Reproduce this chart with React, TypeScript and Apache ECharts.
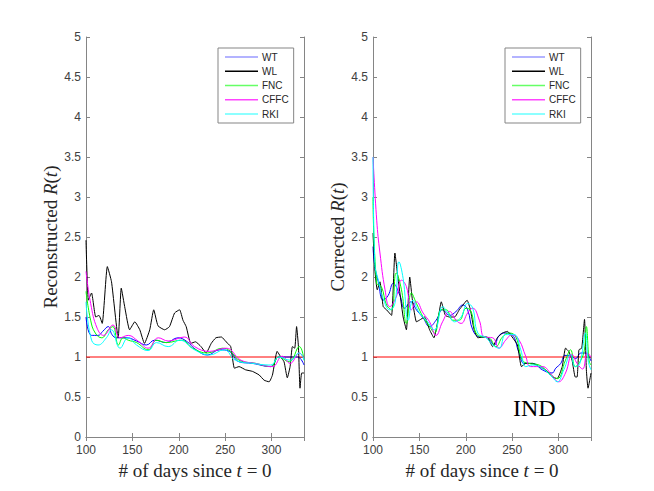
import React, { useEffect, useRef } from "react";
import * as echarts from "echarts";

type P = [number, number];

const seriesNames = ["WT", "WL", "FNC", "CFFC", "RKI"];
const seriesColors = ["#0000ff", "#000000", "#00ff00", "#ff00ff", "#00ffff"];
const legendColors = ["#9a9aff", "#000000", "#66ff66", "#ff44ff", "#66ffff"];
const xRange = [100, 335];
const refLine: P[] = [[100, 1], [335, 1]];
const panelLabel = "IND";

// Left panel: reconstructed R(t)
const leftWT: P[] = [[100,1.50],[106,1.27],[113,1.27],[118,1.32],[124,1.38],[128,1.28],[133,1.24],[144,1.24],[154.5,1.20],[165,1.15],[174,1.21],[186.5,1.18],[199,1.24],[208,1.20],[218.7,1.09],[231,1.025],[244,1.09],[254.6,1.07],[265,0.94],[279.5,0.92],[299,0.88],[308,1.00],[319,1.0],[328,1.0],[335,0.9]];
const leftWL: P[] = [[100,2.46],[102.5,1.71],[106,1.80],[110.5,1.50],[114,1.52],[117.5,1.42],[123,2.13],[127.5,1.94],[134.7,1.24],[138,1.86],[142,1.61],[147,1.34],[152.6,1.44],[158,1.34],[163,1.17],[168.7,1.34],[173,1.59],[177.6,1.39],[184.8,1.34],[190,1.38],[195.5,1.55],[200.9,1.59],[204.5,1.46],[208,1.38],[213,1.17],[218,1.19],[224,1.13],[229.5,1.05],[235,1.17],[240,1.24],[246,1.25],[251,1.19],[256,1.13],[260,0.86],[265,0.88],[272,0.84],[279.5,0.82],[286.7,0.775],[292,0.71],[297.4,0.69],[301,0.775],[306,1.07],[310,1.00],[313.5,0.94],[317,0.74],[320,0.88],[322.5,1.13],[325,1.11],[327,1.38],[329,1.13],[330.7,0.61],[332.5,0.80],[335,0.80]];
const leftFNC: P[] = [[100,1.82],[105,1.46],[110,1.30],[117,1.24],[124,1.34],[129,1.38],[135,1.15],[140,1.24],[145.5,1.21],[154.5,1.18],[167,1.09],[176,1.21],[186.5,1.18],[203,1.21],[215,1.11],[231,1.05],[247,1.11],[256,1.07],[265,0.96],[283,0.92],[299,0.88],[308,1.00],[319,0.94],[330,1.13],[335,0.96]];
const leftCFFC: P[] = [[100,2.07],[105,1.67],[112,1.36],[119,1.27],[129,1.40],[136.7,1.24],[145.5,1.27],[156,1.20],[167,1.11],[178,1.24],[188.6,1.20],[206,1.25],[217,1.13],[233,1.07],[251,1.11],[267,0.96],[283,0.92],[300.8,0.88],[311.5,1.01],[320,0.92],[330,1.05],[335,0.98]];
const leftRKI: P[] = [[100,1.69],[106,1.21],[113,1.15],[122,1.24],[127.5,1.34],[136.7,1.11],[145.5,1.24],[154.5,1.15],[167,1.08],[176,1.18],[188.6,1.13],[201,1.21],[217,1.09],[233,1.025],[249,1.09],[261,0.96],[280,0.92],[299,0.90],[308,1.00],[320,0.96],[330,1.05],[335,0.96]];

// Right panel: corrected R(t)
const rightWT: P[] = [[100,2.38],[102,2.13],[105.7,1.94],[111,1.71],[116.4,1.77],[121.8,1.92],[129,1.77],[134,1.61],[141,1.69],[146.8,1.59],[154,1.49],[161,1.38],[168,1.46],[175,1.59],[182.5,1.52],[189.6,1.57],[196.8,1.65],[202,1.59],[207.5,1.34],[214.6,1.25],[223.6,1.24],[230.7,1.15],[236,1.27],[243,1.30],[250,1.28],[257.5,1.05],[263,0.92],[272,0.92],[282.5,0.84],[293,0.80],[297,0.86],[302.4,0.92],[307,1.02],[312,1.02],[318.5,0.98],[324,1.05],[329,1.05],[335,0.95]];
const rightWL: P[] = [[100,2.55],[102,2.09],[104.6,1.84],[107.5,1.94],[111,1.63],[114.6,1.59],[120,1.52],[123.6,2.30],[127,1.98],[132.5,1.50],[136,1.34],[139.6,2.0],[142.5,1.71],[146.8,1.44],[150,1.46],[155.7,1.50],[161,1.34],[165.7,1.24],[170,1.46],[173.6,1.69],[178,1.52],[182.5,1.50],[188,1.50],[193,1.59],[197,1.65],[201.4,1.71],[205,1.59],[209,1.34],[213,1.24],[218,1.25],[223,1.25],[229,1.13],[234,1.24],[239.6,1.30],[245,1.32],[250,1.25],[255.7,1.15],[260,0.88],[264.6,0.92],[272,0.92],[279,0.88],[286,0.84],[293,0.75],[298.6,0.73],[304,0.88],[307.5,1.11],[311,1.07],[314.6,0.96],[318,0.75],[320,0.75],[322,1.09],[325,1.11],[328,1.47],[330,0.84],[331.8,0.61],[335,0.80]];
const rightFNC: P[] = [[100,3.0],[104,1.92],[109,1.88],[114.6,1.65],[120,1.59],[125,2.05],[130.7,1.84],[136,1.42],[141.4,1.80],[146.8,1.67],[154,1.50],[161,1.38],[166.4,1.30],[173.6,1.59],[179,1.59],[186,1.46],[193,1.46],[200.4,1.61],[205.7,1.57],[211,1.30],[218,1.25],[225,1.24],[232.5,1.13],[239.6,1.25],[246.8,1.30],[254,1.25],[261,0.96],[268,0.92],[279,0.90],[289.6,0.80],[298.6,0.73],[307.5,0.96],[313,1.09],[318,0.88],[324,0.96],[328,1.10],[330,1.38],[333,0.95],[335,0.90]];
const rightCFFC: P[] = [[100,3.5],[104,2.71],[107.5,2.30],[113,1.84],[118,1.63],[125,1.75],[130.7,1.96],[136,1.88],[141.4,1.59],[146.8,1.69],[154,1.55],[161,1.44],[168,1.27],[175,1.44],[182.5,1.57],[189.6,1.46],[195,1.42],[202,1.55],[207.5,1.61],[214.6,1.46],[220,1.25],[229,1.24],[236,1.11],[243,1.21],[250,1.28],[257.5,1.21],[264.6,1.01],[270,0.88],[282.5,0.88],[293,0.77],[300,0.69],[307.5,0.80],[314.6,1.03],[320,0.92],[326,0.85],[331,1.05],[335,1.0]];
const rightRKI: P[] = [[100,3.5],[102,2.17],[105.7,1.96],[111,1.73],[118,1.59],[123.6,1.67],[128,2.19],[132.5,1.98],[138,1.46],[143,1.71],[150,1.55],[157.5,1.46],[166.4,1.34],[175,1.63],[180.7,1.55],[188,1.44],[195,1.50],[202,1.67],[207.5,1.61],[213,1.30],[222,1.24],[229,1.15],[236,1.11],[243,1.28],[252,1.28],[259.3,1.09],[264.6,0.88],[272,0.90],[282.5,0.86],[293,0.75],[298.6,0.69],[305.7,0.84],[313,1.03],[318,0.88],[323,0.92],[329,1.30],[332,0.95],[335,0.84]];

const leftData = [leftWT, leftWL, leftFNC, leftCFFC, leftRKI];
const rightData = [rightWT, rightWL, rightFNC, rightCFFC, rightRKI];

const AXIS_COLOR = "#858585";
const LABEL_COLOR = "#404040";
const SERIF = "'Liberation Serif', 'DejaVu Serif', serif";
const SANS = "'Liberation Sans', Arial, sans-serif";

function makeAxes(gridIndex: number, yName: string) {
  const common = {
    gridIndex,
    axisLine: { show: true, lineStyle: { color: AXIS_COLOR, width: 1 } },
    axisTick: { show: true, inside: true, length: 4, lineStyle: { color: AXIS_COLOR } },
    splitLine: { show: false },
  };
  const nameStyle = {
    fontFamily: SERIF,
    fontSize: 19,
    color: "#262626",
    rich: { i: { fontFamily: SERIF, fontSize: 19, fontStyle: "italic", color: "#262626" } },
  };
  const xBottom = {
    ...common,
    type: "value",
    position: "bottom",
    min: xRange[0],
    max: xRange[1],
    interval: 50,
    name: "# of days since {i|t} = 0",
    nameLocation: "middle",
    nameGap: 15,
    nameTextStyle: nameStyle,
    axisLabel: { show: true, color: LABEL_COLOR, fontFamily: SANS, fontSize: 12, lineHeight: 12, margin: 7, showMaxLabel: false },
  };
  const xTop = {
    ...common,
    type: "value",
    position: "top",
    min: xRange[0],
    max: xRange[1],
    interval: 50,
    axisLabel: { show: false },
  };
  const yLeft = {
    ...common,
    type: "value",
    position: "left",
    min: 0,
    max: 5,
    interval: 0.5,
    name: yName,
    nameLocation: "middle",
    nameGap: 25,
    nameTextStyle: nameStyle,
    axisLabel: { show: true, color: LABEL_COLOR, fontFamily: SANS, fontSize: 12, lineHeight: 12, margin: 5 },
  };
  const yRight = {
    ...common,
    type: "value",
    position: "right",
    min: 0,
    max: 5,
    interval: 0.5,
    axisLabel: { show: false },
  };
  return { x: [xBottom, xTop], y: [yLeft, yRight] };
}

function makeSeries(data: P[][], axisIndex: number) {
  const ref = {
    type: "line",
    name: "ref",
    xAxisIndex: axisIndex,
    yAxisIndex: axisIndex,
    data: refLine,
    showSymbol: false,
    symbol: "none",
    silent: true,
    lineStyle: { color: "#ff0000", width: 1 },
    itemStyle: { color: "#ff0000" },
    z: 1,
  };
  const lines = data.map((d, i) => ({
    type: "line",
    name: seriesNames[i],
    xAxisIndex: axisIndex,
    yAxisIndex: axisIndex,
    data: d,
    showSymbol: false,
    symbol: "none",
    smooth: i === 1 ? 0.15 : 0.45,
    lineStyle: { color: seriesColors[i], width: 1 },
    itemStyle: { color: seriesColors[i] },
    z: 2 + i,
  }));
  return [ref, ...lines];
}

function makeLegend(left: number) {
  return {
    left,
    top: 48,
    orient: "vertical",
    selectedMode: false,
    backgroundColor: "#ffffff",
    borderColor: "#858585",
    borderWidth: 1,
    padding: [3, 5, 3, 7],
    itemGap: 2.25,
    itemWidth: 33,
    itemHeight: 1.5,
    icon: "rect",
    textStyle: { fontFamily: SANS, fontSize: 10, color: "#262626", lineHeight: 12, padding: [0, 0, 0, -1] },
    data: seriesNames.map((n, i) => ({ name: n, itemStyle: { color: legendColors[i] } })),
  };
}

export default function App() {
  const ref = useRef<HTMLDivElement>(null);
  useEffect(() => {
    if (!ref.current) return;
    const chart = echarts.init(ref.current, undefined, { renderer: "svg" });
    const a = makeAxes(0, "Reconstructed {i|R}({i|t})");
    const b = makeAxes(1, "Corrected {i|R}({i|t})");
    chart.setOption({
      animation: false,
      backgroundColor: "#ffffff",
      grid: [
        { left: 86, top: 37, width: 218, height: 400 },
        { left: 373, top: 37, width: 218, height: 400 },
      ],
      xAxis: [...a.x, ...b.x],
      yAxis: [...a.y, ...b.y],
      legend: [makeLegend(218), makeLegend(505)],
      series: [...makeSeries(leftData, 0), ...makeSeries(rightData, 2)],
      graphic: [
        {
          type: "text",
          left: 513,
          top: 396,
          style: { text: panelLabel, font: "24px " + SERIF, fill: "#000000" },
        },
      ],
    });
    return () => chart.dispose();
  }, []);
  return (
    <div
      ref={ref}
      style={{ position: "absolute", left: 0, top: 0, width: 654, height: 491, background: "#fff" }}
    />
  );
}
